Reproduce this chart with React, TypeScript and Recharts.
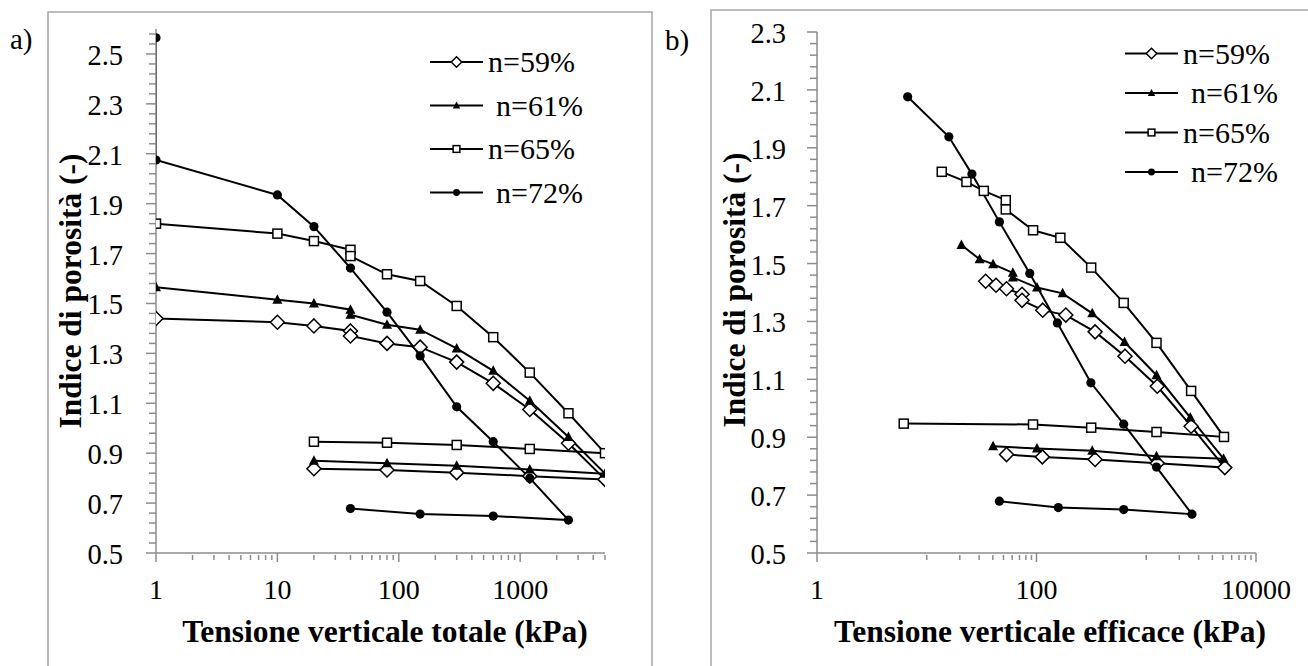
import { Legend, Line, LineChart, XAxis, YAxis } from 'recharts'

type Pt = [number, number]

// Void ratio vs total vertical stress (kPa): loading, then unloading
const tot59: Pt[] = [
  [1, 1.44], [10, 1.425], [20, 1.41], [40, 1.39], [40, 1.37], [80, 1.34], [150, 1.325], [300, 1.265],
  [600, 1.18], [1200, 1.075], [2500, 0.94], [5000, 0.795], [1200, 0.808], [300, 0.822], [80, 0.833], [20, 0.838],
]
const tot61: Pt[] = [
  [1, 1.565], [10, 1.515], [20, 1.5], [40, 1.475], [40, 1.455], [80, 1.415], [150, 1.395], [300, 1.32],
  [600, 1.23], [1200, 1.11], [2500, 0.965], [5000, 0.818], [1200, 0.835], [300, 0.85], [80, 0.86], [20, 0.87],
]
const tot65: Pt[] = [
  [1, 1.82], [10, 1.78], [20, 1.75], [40, 1.715], [40, 1.69], [80, 1.617], [150, 1.59], [300, 1.49],
  [600, 1.365], [1200, 1.223], [2500, 1.06], [5000, 0.9], [1200, 0.917], [300, 0.933], [80, 0.942], [20, 0.946],
]
const tot72: Pt[] = [
  [1, 2.565], [1, 2.075], [10, 1.935], [20, 1.808], [40, 1.642], [80, 1.465], [150, 1.29], [300, 1.086],
  [600, 0.946], [1200, 0.8], [2500, 0.632], [600, 0.648], [150, 0.656], [40, 0.678],
]

// Void ratio vs effective vertical stress (kPa)
const eff59: Pt[] = [
  [34.4, 1.439], [42.8, 1.425], [53.3, 1.413], [73.8, 1.394], [73.8, 1.373], [114, 1.339], [185, 1.322], [342, 1.264],
  [640, 1.18], [1260, 1.076], [2563, 0.938], [5196, 0.795], [1260, 0.81], [342, 0.823], [113, 0.832], [53.3, 0.84],
]
const eff61: Pt[] = [
  [20.7, 1.564], [30.3, 1.515], [40.2, 1.498], [60.9, 1.468], [60.9, 1.452], [101, 1.417], [173, 1.397], [322, 1.328],
  [634, 1.229], [1240, 1.114], [2519, 0.968], [5063, 0.826], [1240, 0.834], [322, 0.853], [101, 0.861], [40.2, 0.869],
]
const eff65: Pt[] = [
  [13.7, 1.817], [23, 1.782], [33.1, 1.751], [52.5, 1.719], [52.5, 1.687], [93.1, 1.615], [165, 1.589], [315, 1.486],
  [623, 1.364], [1240, 1.226], [2563, 1.06], [5108, 0.901], [1240, 0.918], [315, 0.933], [93, 0.944], [6.17, 0.947],
]
const eff72: Pt[] = [
  [6.7, 2.076], [15.9, 1.938], [25.8, 1.809], [45.9, 1.644], [86.8, 1.466], [155, 1.295], [313, 1.088],
  [623, 0.945], [1240, 0.797], [2610, 0.634], [623, 0.65], [158, 0.657], [45.9, 0.679],
]

const seriesNames = ['n=59%', 'n=61%', 'n=65%', 'n=72%']

const xTicksTot = [1, 10, 100, 1000]
const xTicksEff = [1, 100, 10000]
const yTicksTot = [0.5, 0.7, 0.9, 1.1, 1.3, 1.5, 1.7, 1.9, 2.1, 2.3, 2.5]
const yTicksEff = [0.5, 0.7, 0.9, 1.1, 1.3, 1.5, 1.7, 1.9, 2.1, 2.3]

const AXIS = '#8c8c8c'
const FONT = '"Liberation Serif", "Times New Roman", serif'
const serif = { fontFamily: FONT }
const markers = ['diamond', 'triangle', 'square', 'circle'] as const
type MarkerKind = (typeof markers)[number]

const toRows = (pts: Pt[]) => pts.map(([x, y]) => ({ x, y }))

// minor ticks every 0.04 on the void-ratio axis
const yMinor = (lo: number, hi: number) => {
  const out: number[] = []
  for (let i = 0; lo + i * 0.04 <= hi + 1e-9; i++) out.push(Math.round((lo + i * 0.04) * 100) / 100)
  return out
}

const xMinorTot: number[] = []
xTicksTot.forEach((M) => { for (let m = 2; m <= 9; m++) if (m * M <= 5000) xMinorTot.push(m * M) })
const xMinorEff: number[] = []
xTicksEff.slice(0, -1).forEach((M) => { for (let m = 1; m <= 9; m++) xMinorEff.push(m * M * 10) })

function Marker({ kind, cx, cy, s = 1 }: { kind: MarkerKind; cx: number; cy: number; s?: number }) {
  if (kind === 'diamond') {
    const h = 7 * s
    return <polygon points={`${cx},${cy - h} ${cx + h},${cy} ${cx},${cy + h} ${cx - h},${cy}`} fill="#fff" stroke="#000" strokeWidth={1.5} />
  }
  if (kind === 'triangle') {
    const h = 5 * s
    return <polygon points={`${cx},${cy - h * 1.1} ${cx + h},${cy + h * 0.8} ${cx - h},${cy + h * 0.8}`} fill="#000" />
  }
  if (kind === 'square') {
    const h = 4.5 * s
    return <rect x={cx - h} y={cy - h} width={h * 2} height={h * 2} fill="#fff" stroke="#000" strokeWidth={1.5} />
  }
  return <circle cx={cx} cy={cy} r={4.6 * s} fill="#000" />
}

function XTick(props: any) {
  const { x, y, payload, majors } = props
  const major = majors.includes(payload.value)
  return (
    <g>
      <line x1={x} x2={x} y1={major ? y : y + 2} y2={y + (major ? 9 : 7)} stroke={AXIS} strokeWidth={1.5} />
      {major && (
        <text x={x} y={y + 46} textAnchor="middle" fontSize={28} style={serif} fill="#000">
          {payload.value}
        </text>
      )}
    </g>
  )
}

function YTick(props: any) {
  const { x, y, payload, majors, gap } = props
  const major = majors.some((m: number) => Math.abs(m - payload.value) < 1e-6)
  return (
    <g>
      <line x1={x - (major ? 10 : 7)} x2={x} y1={y} y2={y} stroke={AXIS} strokeWidth={1.5} />
      {major && (
        <text x={x - gap} y={y + 11} textAnchor="end" fontSize={28.5} style={serif} fill="#000">
          {payload.value.toFixed(1)}
        </text>
      )}
    </g>
  )
}

function LegendBox({ rowYs, x1, x2, textX }: { rowYs: number[]; x1: number; x2: number; textX: number }) {
  return (
    <svg width={220} height={200} style={{ overflow: 'visible' }}>
      {seriesNames.map((name, i) => (
        <g key={name}>
          <line x1={x1} x2={x2} y1={rowYs[i]} y2={rowYs[i]} stroke="#000" strokeWidth={2} />
          <Marker kind={markers[i]} cx={(x1 + x2) / 2} cy={rowYs[i]} s={0.75} />
          <text x={textX + (i % 2 === 1 ? 8 : 0)} y={rowYs[i] + 10} fontSize={30} style={serif} fill="#000">
            {name}
          </text>
        </g>
      ))}
    </svg>
  )
}

type PanelProps = {
  series: Pt[][]
  width: number
  margin: { top: number; right: number; bottom: number; left: number }
  yAxisWidth: number
  xDomain: [number, number]
  xMajors: number[]
  xMinors: number[]
  yDomain: [number, number]
  yMajors: number[]
  labelGap: number
  legendPos: { left: number; top: number }
  legendRows: number[]
}

function Panel(p: PanelProps) {
  return (
    <LineChart width={p.width} height={666} margin={p.margin}>
      <XAxis
        type="number"
        dataKey="x"
        scale="log"
        domain={p.xDomain}
        ticks={[...p.xMajors, ...p.xMinors].sort((a, b) => a - b)}
        interval={0}
        height={60}
        tickSize={0}
        tickMargin={0}
        tickLine={false}
        axisLine={{ stroke: AXIS, strokeWidth: 1.5 }}
        tick={(t: any) => <XTick {...t} majors={p.xMajors} />}
        allowDataOverflow
      />
      <YAxis
        type="number"
        dataKey="y"
        domain={p.yDomain}
        ticks={yMinor(p.yDomain[0], p.yDomain[1])}
        interval={0}
        width={p.yAxisWidth}
        tickSize={0}
        tickMargin={0}
        tickLine={false}
        axisLine={{ stroke: AXIS, strokeWidth: 1.5 }}
        tick={(t: any) => <YTick {...t} majors={p.yMajors} gap={p.labelGap} />}
        allowDataOverflow
      />
      <Legend
        layout="vertical"
        align="center"
        verticalAlign="middle"
        wrapperStyle={{ left: p.legendPos.left, top: p.legendPos.top, width: 220, height: 200 }}
        content={() => <LegendBox rowYs={p.legendRows} x1={0} x2={53} textX={58} />}
      />
      {p.series.map((pts, i) => (
        <Line
          key={seriesNames[i]}
          name={seriesNames[i]}
          data={toRows(pts)}
          dataKey="y"
          type="linear"
          stroke="#000"
          strokeWidth={2}
          isAnimationActive={false}
          activeDot={false}
          dot={(d: any) => <Marker key={`${i}-${d.index}`} kind={markers[i]} cx={d.cx} cy={d.cy} />}
        />
      ))}
    </LineChart>
  )
}

export default function App() {
  return (
    <div style={{ position: 'absolute', left: 0, top: 0, width: 1308, height: 666, background: '#fff', fontFamily: FONT, overflow: 'hidden' }}>
      <svg width={1308} height={666} style={{ position: 'absolute', left: 0, top: 0 }}>
        <rect x={48} y={12} width={604} height={700} fill="none" stroke="#a6a6a6" strokeWidth={1.5} />
        <rect x={711} y={10} width={700} height={700} fill="none" stroke="#a6a6a6" strokeWidth={1.5} />
        <text x={10} y={49} fontSize={29} style={serif}>a)</text>
        <text x={665} y={50} fontSize={29} style={serif}>b)</text>
        <text x={385} y={642} textAnchor="middle" fontSize={31.5} fontWeight="bold" style={serif}>
          Tensione verticale totale (kPa)
        </text>
        <text x={1050} y={642} textAnchor="middle" fontSize={31.5} fontWeight="bold" style={serif}>
          Tensione verticale efficace (kPa)
        </text>
        <text transform="translate(81,291) rotate(-90)" textAnchor="middle" fontSize={31.5} fontWeight="bold" style={serif}>
          Indice di porosità (-)
        </text>
        <text transform="translate(745,290) rotate(-90)" textAnchor="middle" fontSize={31.5} fontWeight="bold" style={serif}>
          Indice di porosità (-)
        </text>
      </svg>
      <div style={{ position: 'absolute', left: 0, top: 0 }}>
        <Panel
          series={[tot59, tot61, tot65, tot72]}
          width={660}
          margin={{ top: 29, right: 55, bottom: 53, left: 0 }}
          yAxisWidth={156}
          xDomain={[1, 5000]}
          xMajors={xTicksTot}
          xMinors={xMinorTot}
          yDomain={[0.5, 2.6]}
          yMajors={yTicksTot}
          labelGap={33}
          legendPos={{ left: 430, top: 0 }}
          legendRows={[62, 105.5, 149, 192.5]}
        />
      </div>
      <div style={{ position: 'absolute', left: 660, top: 0 }}>
        <Panel
          series={[eff59, eff61, eff65, eff72]}
          width={648}
          margin={{ top: 32, right: 52, bottom: 53, left: 0 }}
          yAxisWidth={157}
          xDomain={[1, 10000]}
          xMajors={xTicksEff}
          xMinors={xMinorEff}
          yDomain={[0.5, 2.3]}
          yMajors={yTicksEff}
          labelGap={31}
          legendPos={{ left: 465, top: 0 }}
          legendRows={[53.5, 93, 132.5, 172]}
        />
      </div>
    </div>
  )
}
